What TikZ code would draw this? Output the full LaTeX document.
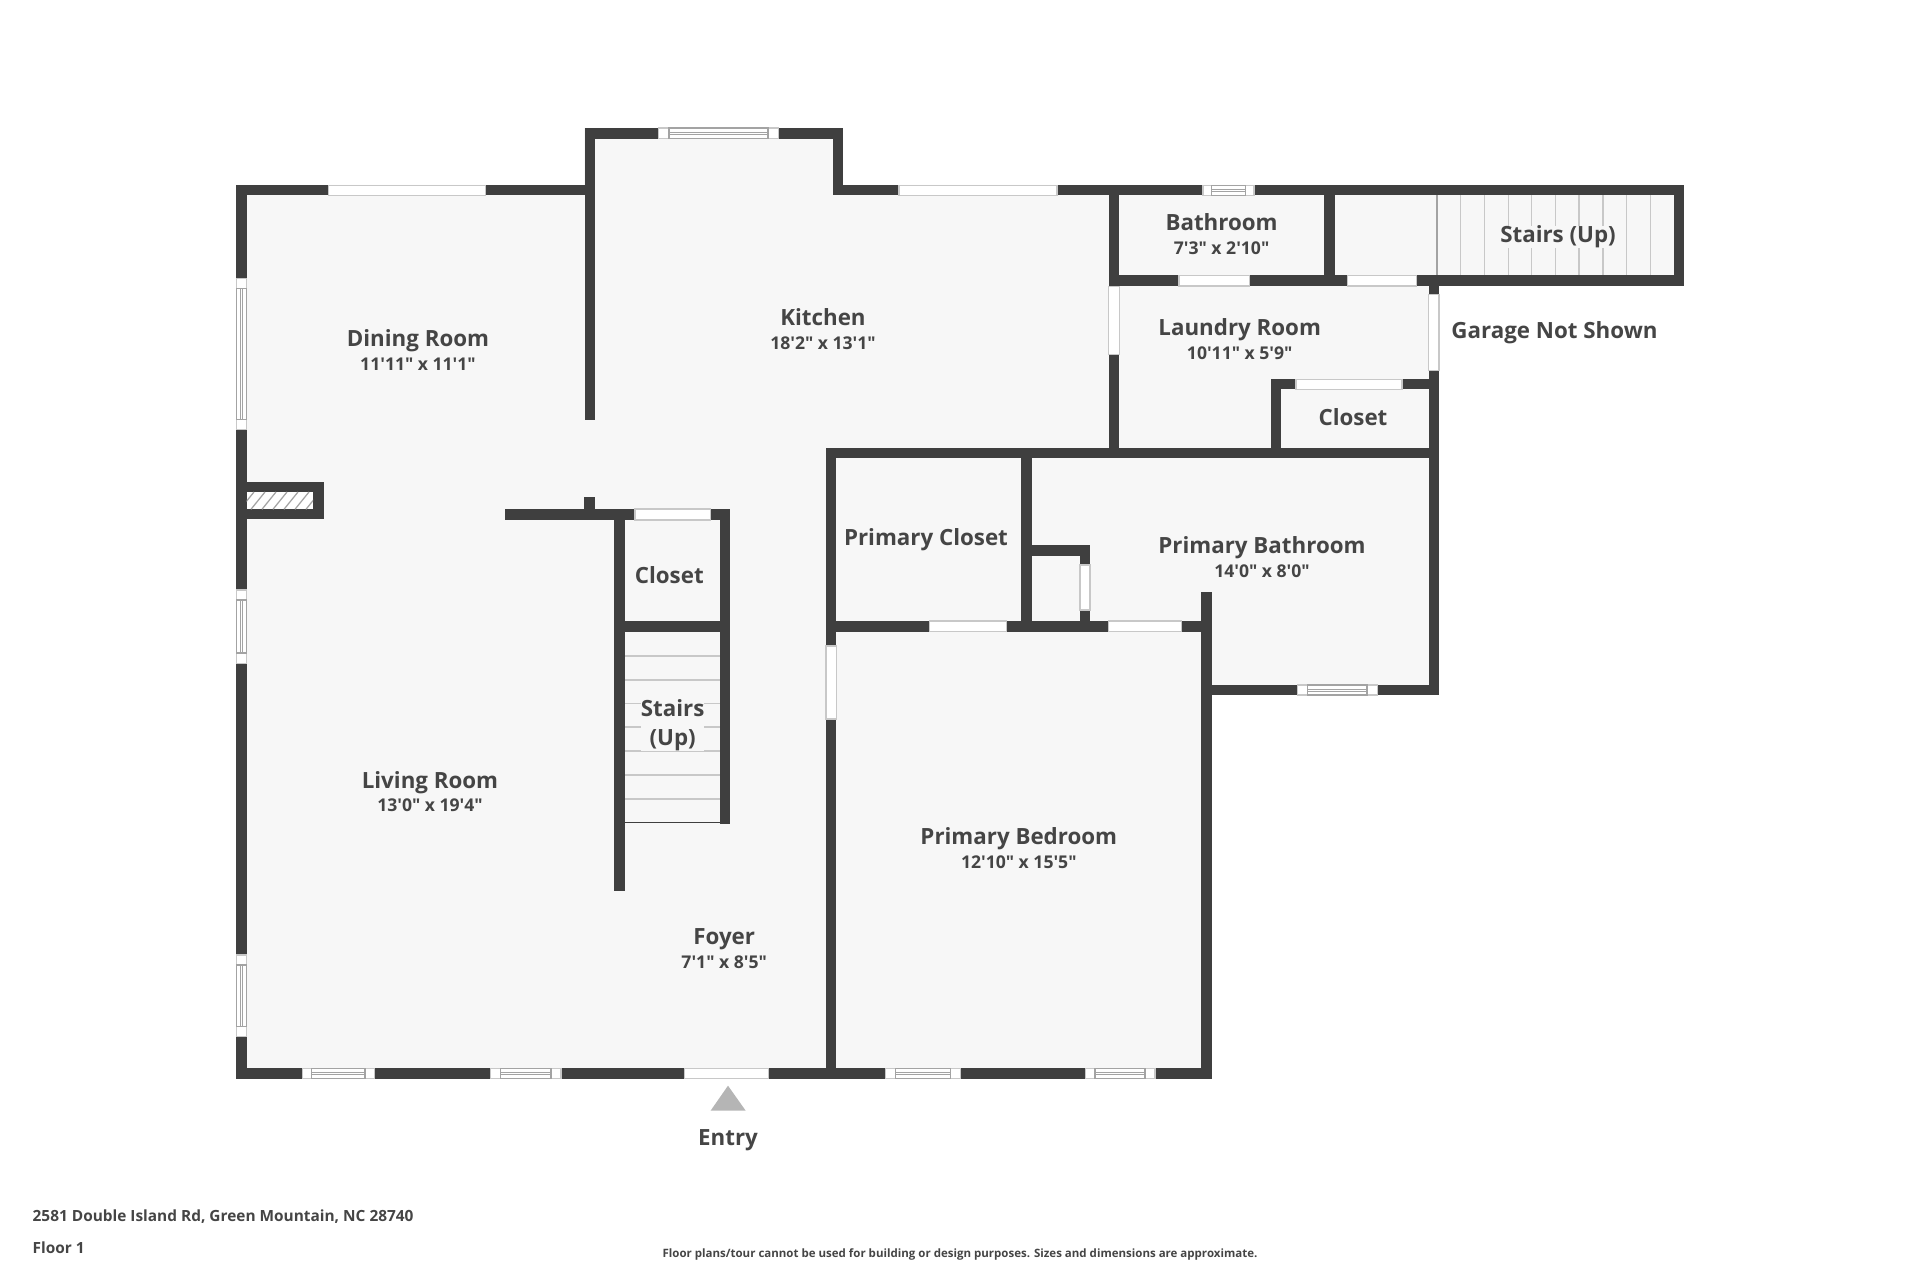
\documentclass[tikz,border=0pt]{standalone}
\usepackage{fontspec}
\setmainfont{Open Sans}[Ligatures=TeXOff]
\usetikzlibrary{positioning}
\definecolor{wallgrey}{HTML}{3F3F3F}
\definecolor{textgrey}{HTML}{454545}
\definecolor{floorgrey}{HTML}{F7F7F7}
\definecolor{linegrey}{HTML}{C8C8C8}
\definecolor{sashgrey}{HTML}{A3A3A3}
\definecolor{markgrey}{HTML}{B5B5B5}
\tikzset{
	wall/.style={fill=wallgrey},
	gap/.style={fill=white, draw=linegrey, line width=0.3pt},
	sash/.style={draw=sashgrey, line width=0.3pt},
	tread/.style={draw=linegrey, line width=0.3pt},
	roomname/.style={text=textgrey, font=\fontsize{6.35}{8.2}\selectfont\bfseries, inner sep=0pt},
	roomsize/.style={text=textgrey, font=\fontsize{5.0}{6}\selectfont\bfseries, inner sep=0pt},
	footnote/.style={text=textgrey, font=\fontsize{3.27}{5}\selectfont\bfseries, inner sep=0pt},
	address/.style={text=textgrey, font=\fontsize{4.38}{6}\selectfont\bfseries, inner sep=0pt, anchor=west}
}
% window with sash: outer x, inner x, y range
\def\sashh(#1:#2)(#3:#4)(#5:#6){
	\draw[gap] (#1, #5) rectangle (#2, #6);
	\draw[sash, fill=white] (#3, #5) rectangle (#4, #6);
	\draw[sash] (#3, {#5+(#6-#5)*0.41}) -- (#4, {#5+(#6-#5)*0.41});
	\draw[sash] (#3, {#5+(#6-#5)*0.61}) -- (#4, {#5+(#6-#5)*0.61});
}
\def\sashv(#1:#2)(#3:#4)(#5:#6){
	\draw[gap] (#5, #1) rectangle (#6, #2);
	\draw[sash, fill=white] (#5, #3) rectangle (#6, #4);
	\draw[sash] ({#5+(#6-#5)*0.41}, #3) -- ({#5+(#6-#5)*0.41}, #4);
	\draw[sash] ({#5+(#6-#5)*0.61}, #3) -- ({#5+(#6-#5)*0.61}, #4);
}

\begin{document}
\begin{tikzpicture}[x=0.01cm, y=-0.01cm]
	\useasboundingbox (0, 0) rectangle (1920, 1280);
	%%%%% FLOOR %%%%%

	\fill[floorgrey] (236, 185) -- (584, 185) -- (584, 128) -- (843, 128) -- (843, 185)
		-- (1683, 185) -- (1683, 286) -- (1439, 286) -- (1439, 695) -- (1211, 695)
		-- (1211, 1078) -- (236, 1078) -- cycle;

	%%%%% STAIRS %%%%%

	\foreach \y in {656, 680, 703.5, 727, 751, 775, 799} {
		\draw[tread] (624, \y) -- (720, \y);
	}
	\foreach \x in {1460.7, 1484.2, 1508.2, 1531.8, 1555.4, 1579, 1603, 1626.5, 1650.5} {
		\draw[tread] (\x, 195) -- (\x, 276);
	}
	\draw[sash] (1437, 195) -- (1437, 276);
	\draw[wallgrey, line width=0.45pt] (624, 822.5) -- (720, 822.5);

	%%%%% WALLS %%%%%

	\fill[wall] (236.3, 185.3) rectangle (246.5, 1078.7);
	\fill[wall] (236.3, 185.3) rectangle (594.7, 195.3);
	\fill[wall] (584.5, 128) rectangle (594.7, 420);
	\fill[wall] (584.5, 128) rectangle (843.3, 138.7);
	\fill[wall] (833, 128) rectangle (843.3, 195.3);
	\fill[wall] (833, 185.3) rectangle (1683.7, 195.3);
	\fill[wall] (1673.6, 185.3) rectangle (1683.7, 286);
	\fill[wall] (1108.8, 275.3) rectangle (1683.7, 286);
	\fill[wall] (1108.8, 185.3) rectangle (1119.3, 458.3);
	\fill[wall] (1324.3, 185.3) rectangle (1334.8, 286);
	\fill[wall] (1428.7, 275.3) rectangle (1439, 695);
	\fill[wall] (1270.9, 379.3) rectangle (1439, 389.3);
	\fill[wall] (1270.9, 379.3) rectangle (1281.4, 458.3);
	\fill[wall] (826, 448.3) rectangle (1439, 458.3);
	\fill[wall] (826, 448.3) rectangle (836.3, 1078.7);
	\fill[wall] (1021, 448.3) rectangle (1031.6, 631.7);
	\fill[wall] (1021, 545) rectangle (1090, 555.7);
	\fill[wall] (1080, 545) rectangle (1090, 631.7);
	\fill[wall] (826, 621) rectangle (1211, 631.7);
	\fill[wall] (1201, 592.3) rectangle (1211.5, 1078.7);
	\fill[wall] (1201, 685) rectangle (1439, 695);
	\fill[wall] (236.3, 1068.3) rectangle (1211.5, 1078.7);

	\fill[wall] (504.7, 509) rectangle (730, 520);
	\fill[wall] (584, 497) rectangle (595, 520);
	\fill[wall] (614, 509) rectangle (624.7, 890.7);
	\fill[wall] (719.7, 509) rectangle (730, 824);
	\fill[wall] (614, 621) rectangle (730, 631.7);

	%%%%% FIREPLACE %%%%%

	\fill[wall] (236.3, 481.7) rectangle (323.7, 519.3);
	\begin{scope}
		\clip (246.5, 492) rectangle (313, 509.3);
		\fill[white] (246.5, 492) rectangle (313, 509.3);
		\foreach \x in {240, 251, ..., 320} {
			\draw[sash, line width=0.35pt] (\x, 509.3) -- (\x+14, 492);
		}
	\end{scope}

	%%%%% OPENINGS %%%%%

	\draw[gap] (328.6, 185.3) rectangle (485.7, 195.3);
	\draw[gap] (899, 185.3) rectangle (1057, 195.3);
	\draw[gap] (1179, 275.3) rectangle (1249.4, 286);
	\draw[gap] (1347.9, 275.3) rectangle (1416.5, 286);
	\draw[gap] (1108.8, 286.7) rectangle (1119.3, 354.7);
	\draw[gap] (1428.7, 294.7) rectangle (1439, 370.3);
	\draw[gap] (1296, 379.3) rectangle (1402, 389.3);
	\draw[gap] (635, 509) rectangle (710.7, 520);
	\draw[gap] (826, 646) rectangle (836.3, 719);
	\draw[gap] (929.2, 621) rectangle (1006.4, 631.7);
	\draw[gap] (1108.3, 621) rectangle (1181.2, 631.7);
	\draw[gap] (1080, 565) rectangle (1090, 610);
	\draw[gap] (684.5, 1068.3) rectangle (768.5, 1078.7);

	%%%%% WINDOWS %%%%%

	\sashh(658.8:778.4)(669:768)(128:138.7);
	\sashh(1203:1254)(1211.5:1245.6)(185.3:195.3);
	\sashh(1297.4:1377.6)(1307.4:1367)(685:695);
	\sashh(302.6:374.8)(311.7:365)(1068.3:1078.7);
	\sashh(490.7:561)(500.4:551)(1068.3:1078.7);
	\sashh(885.6:960.4)(895.3:950.6)(1068.3:1078.7);
	\sashh(1085.3:1155)(1095:1145)(1068.3:1078.7);
	\sashv(278.3:429.3)(288.3:419.3)(236.3:246.5);
	\sashv(590:663.3)(600:653)(236.3:246.5);
	\sashv(955:1036.7)(965:1026.7)(236.3:246.5);

	%%%%% ENTRY %%%%%

	\fill[markgrey] (728, 1085.7) -- (745.7, 1110.7) -- (710.6, 1110.7) -- cycle;
	\node[roomname] (entry) at (728, 1140.5) {Entry};

	%%%%% LABELS %%%%%

	\node[roomname] (dining) at (418, 340.5) {Dining Room};
	\node[roomsize] (diningsize) at (418, 364) {11'11" x 11'1"};
	\node[roomname] (kitchen) at (823, 317) {Kitchen};
	\node[roomsize] (kitchensize) at (823, 343) {18'2" x 13'1"};
	\node[roomname] (bathroom) at (1221.6, 222) {Bathroom};
	\node[roomsize] (bathroomsize) at (1221.6, 248) {7'3" x 2'10"};
	\node[roomname, fill=floorgrey] (stairsup) at (1558, 237.2) {Stairs (Up)};
	\node[roomname] (laundry) at (1239.7, 330.2) {Laundry Room};
	\node[roomsize] (laundrysize) at (1239.7, 353) {10'11" x 5'9"};
	\node[roomname] (garage) at (1554.5, 333.2) {Garage Not Shown};
	\node[roomname] (laundrycloset) at (1353, 416.7) {Closet};
	\node[roomname] (primarycloset) at (926, 540) {Primary Closet};
	\node[roomname] (primarybath) at (1262, 547.7) {Primary Bathroom};
	\node[roomsize] (primarybathsize) at (1262, 571) {14'0" x 8'0"};
	\node[roomname] (hallcloset) at (669.3, 574.7) {Closet};
	\node[roomname, fill=floorgrey, align=center] (stairs) at (672.7, 725) {Stairs\\(Up)};
	\node[roomname] (living) at (430, 782.5) {Living Room};
	\node[roomsize] (livingsize) at (430, 805.7) {13'0" x 19'4"};
	\node[roomname] (bedroom) at (1018.8, 838.3) {Primary Bedroom};
	\node[roomsize] (bedroomsize) at (1018.8, 862) {12'10" x 15'5"};
	\node[roomname] (foyer) at (724.2, 939) {Foyer};
	\node[roomsize] (foyersize) at (724.2, 962.5) {7'1" x 8'5"};

	%%%%% FOOTER %%%%%

	\node[address] (street) at (32, 1216.5) {2581 Double Island Rd, Green Mountain, NC 28740};
	\node[address] (floorname) at (32, 1248) {Floor 1};
	\node[footnote] (disclaimer) at (960, 1254.5) {Floor plans/tour cannot be used for building or design purposes. Sizes and dimensions are approximate.};
\end{tikzpicture}
\end{document}
